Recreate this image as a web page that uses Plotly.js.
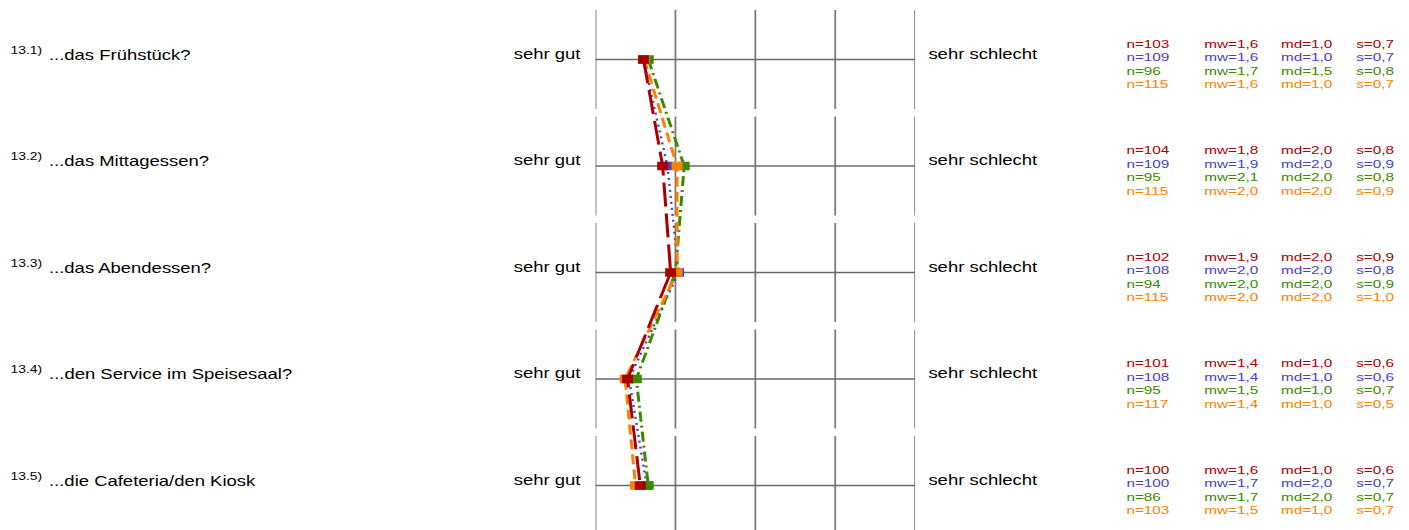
<!DOCTYPE html>
<html>
<head>
<meta charset="utf-8">
<script src="https://cdn.plot.ly/plotly-3.0.1.min.js"></script>
<style>
html,body{margin:0;padding:0;background:#fff;overflow:hidden;}
#wrap{width:1409px;height:530px;overflow:hidden;}
#chart{transform-origin:0 0;}
</style>
</head>
<body>
<div id="wrap"><div id="chart"></div></div>
<script>
// ---- data ----
const itemNums = ['13.1)', '13.2)', '13.3)', '13.4)', '13.5)'];
const items = ['...das Frühstück?', '...das Mittagessen?', '...das Abendessen?', '...den Service im Speisesaal?', '...die Cafeteria/den Kiosk'];
const leftLabel = 'sehr gut';
const rightLabel = 'sehr schlecht';
const scaleTicks = [1, 2, 3, 4, 5];

// plotted means
const meanRed    = [1.60, 1.84, 1.94, 1.40, 1.56];
const meanBlue   = [1.60, 1.90, 2.04, 1.42, 1.64];
const meanGreen  = [1.66, 2.11, 2.00, 1.51, 1.66];
const meanOrange = [1.61, 2.02, 2.02, 1.37, 1.50];

// statistics
const nRed    = [103, 104, 102, 101, 100];
const nBlue   = [109, 109, 108, 108, 100];
const nGreen  = [96, 95, 94, 95, 86];
const nOrange = [115, 115, 115, 117, 103];

const mwRed    = [1.6, 1.8, 1.9, 1.4, 1.6];
const mwBlue   = [1.6, 1.9, 2.0, 1.4, 1.7];
const mwGreen  = [1.7, 2.1, 2.0, 1.5, 1.7];
const mwOrange = [1.6, 2.0, 2.0, 1.4, 1.5];

const mdRed    = [1.0, 2.0, 2.0, 1.0, 1.0];
const mdBlue   = [1.0, 2.0, 2.0, 1.0, 2.0];
const mdGreen  = [1.5, 2.0, 2.0, 1.0, 2.0];
const mdOrange = [1.0, 2.0, 2.0, 1.0, 1.0];

const sRed    = [0.7, 0.8, 0.9, 0.6, 0.6];
const sBlue   = [0.7, 0.9, 0.8, 0.6, 0.7];
const sGreen  = [0.8, 0.8, 0.9, 0.7, 0.7];
const sOrange = [0.7, 0.9, 1.0, 0.5, 0.7];

// ---- styles ----
const RED = '#a80000', BLUE = '#4343c4', GREEN = '#3a8a00', ORANGE = '#ff8000';
const FONT = 'Liberation Sans, Arial, Helvetica, sans-serif';

const K = 1.3205;               // horizontal stretch of the whole picture
const W = 1067, H = 530;
const PX_L = 595, PX_R = 915;   // stretched pixel positions of scale ends
const ROW0 = 59.5, ROWSTEP = 106.5;

const el = document.getElementById('chart');
el.style.width = W + 'px';
el.style.height = H + 'px';
el.style.transform = 'scaleX(' + K + ')';

const yIdx = items.map((_, i) => i);
const yTop = -ROW0 / ROWSTEP;
const yBot = (items.length - 1) + (H - (ROW0 + ROWSTEP * (items.length - 1))) / ROWSTEP;
const half = 49.5 / ROWSTEP;

function px2paper(px) { return (px - PX_L) / (PX_R - PX_L); }
function fmt(v) { return v.toFixed(1).replace('.', ','); }

const series = [
  {name: 'blau', mean: meanBlue, color: BLUE, width: 1.8, dash: '2px,4px'},
  {name: 'grün', mean: meanGreen, color: GREEN, width: 2.3, dash: '10px,4px,2px,4px'},
  {name: 'orange', mean: meanOrange, color: ORANGE, width: 2.3, dash: '10px,5px'},
  {name: 'rot', mean: meanRed, color: RED, width: 2.3, dash: '24px,7px'}
];

const traces = series.map(s => ({
  type: 'scatter', mode: 'lines+markers', name: s.name,
  x: s.mean, y: yIdx,
  line: {color: s.color, width: s.width, dash: s.dash},
  marker: {symbol: 'square', size: 8.3, color: s.color, line: {width: 0}},
  hoverinfo: 'skip', showlegend: false
}));

const shapes = [];
yIdx.forEach(i => {
  scaleTicks.forEach(t => {
    shapes.push({type: 'line', xref: 'x', yref: 'y', x0: t, x1: t, y0: i - half, y1: i + half,
      line: {color: '#7a7a7a', width: 1.35}, layer: 'below'});
  });
  shapes.push({type: 'line', xref: 'x', yref: 'y', x0: scaleTicks[0], x1: scaleTicks[scaleTicks.length - 1], y0: i, y1: i,
    line: {color: '#6a6a6a', width: 1.7}, layer: 'below'});
});

const ann = [];
function addText(text, pxX, anchor, i, shift, size, color) {
  ann.push({xref: 'paper', yref: 'y', x: px2paper(pxX), y: i, yshift: shift,
    xanchor: anchor, yanchor: 'middle', text: text, showarrow: false,
    borderpad: 0, borderwidth: 0, font: {family: FONT, size: size, color: color}});
}
const statGroups = [
  {color: RED, n: nRed, mw: mwRed, md: mdRed, s: sRed},
  {color: BLUE, n: nBlue, mw: mwBlue, md: mdBlue, s: sBlue},
  {color: GREEN, n: nGreen, mw: mwGreen, md: mdGreen, s: sGreen},
  {color: ORANGE, n: nOrange, mw: mwOrange, md: mdOrange, s: sOrange}
];
yIdx.forEach(i => {
  addText(itemNums[i], 9, 'left', i, 10, 10.5, '#000');
  addText(items[i], 48, 'left', i, 5, 14, '#000');
  addText(leftLabel, 581, 'right', i, 6, 14, '#000');
  addText(rightLabel, 928, 'left', i, 6, 14, '#000');
  statGroups.forEach((g, j) => {
    const sh = 16.5 - 13.5 * j;
    addText('n=' + g.n[i], 1127, 'left', i, sh, 11.6, g.color);
    addText('mw=' + fmt(g.mw[i]), 1204, 'left', i, sh, 11.6, g.color);
    addText('md=' + fmt(g.md[i]), 1281, 'left', i, sh, 11.6, g.color);
    addText('s=' + fmt(g.s[i]), 1356, 'left', i, sh, 11.6, g.color);
  });
});

const layout = {
  width: W, height: H,
  margin: {l: PX_L / K, r: W - PX_R / K, t: 0, b: 0, pad: 0},
  paper_bgcolor: '#fff', plot_bgcolor: '#fff',
  xaxis: {range: [scaleTicks[0], scaleTicks[scaleTicks.length - 1]], visible: false, fixedrange: true},
  yaxis: {range: [yBot, yTop], visible: false, fixedrange: true},
  shapes: shapes, annotations: ann, showlegend: false
};

Plotly.newPlot(el, traces, layout, {displayModeBar: false, staticPlot: true});
</script>
</body>
</html>
